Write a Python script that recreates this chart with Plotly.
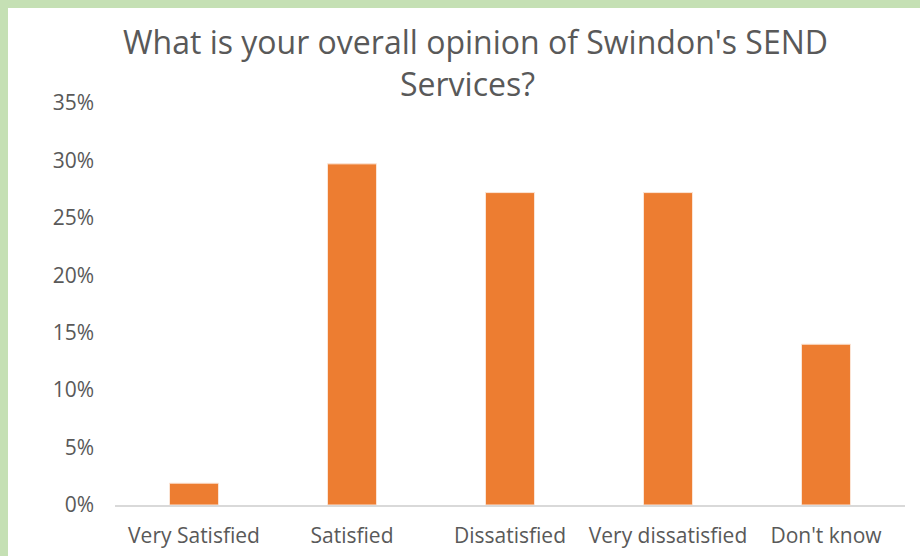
import plotly.graph_objects as go

categories = ["Very Satisfied", "Satisfied", "Dissatisfied", "Very dissatisfied", "Don't know"]
values = [0.019, 0.297, 0.272, 0.272, 0.14]
y_ticks = [0, 0.05, 0.10, 0.15, 0.20, 0.25, 0.30, 0.35]
title_lines = ["What is your overall opinion of Swindon's SEND", "Services?"]

W, H = 920, 556
L, R, T, B = 115, 15, 103, 51
pw, ph = W - L - R, H - T - B


def px_x(x):
    return (x - L) / pw


def px_y(y):
    return (H - B - y) / ph


fig = go.Figure(go.Bar(
    x=categories, y=values,
    marker=dict(color="#ed7d31", line=dict(color="#fbe5d6", width=1)),
    width=0.31,
))

green = "#c5e0b4"
fig.add_shape(type="rect", xref="paper", yref="paper",
              x0=px_x(0), x1=px_x(8), y0=px_y(H + 5), y1=px_y(-5),
              fillcolor=green, line_width=0, layer="below")
fig.add_shape(type="rect", xref="paper", yref="paper",
              x0=px_x(0), x1=px_x(W + 5), y0=px_y(8), y1=px_y(-5),
              fillcolor=green, line_width=0, layer="below")

fig.add_annotation(text=title_lines[0], xref="paper", yref="paper",
                   x=px_x(475), y=px_y(42), xanchor="center", yanchor="middle",
                   showarrow=False, font=dict(size=32, color="#595959"))
fig.add_annotation(text=title_lines[1], xref="paper", yref="paper",
                   x=px_x(467), y=px_y(83), xanchor="center", yanchor="middle",
                   showarrow=False, font=dict(size=32, color="#595959"))

fig.update_layout(
    width=W, height=H,
    margin=dict(l=L, r=R, t=T, b=B),
    paper_bgcolor="white", plot_bgcolor="white",
    font=dict(family="Open Sans", color="#595959", size=21),
    showlegend=False,
)
fig.update_xaxes(showline=True, linecolor="#d9d9d9", linewidth=1.5, ticks="",
                 showgrid=False, ticklabelstandoff=11, tickfont=dict(size=21),
                 automargin=False)
fig.update_yaxes(range=[0, 0.35], tickvals=y_ticks, tickformat=".0%", showgrid=False,
                 zeroline=False, showline=False, ticks="", ticklabelstandoff=20,
                 tickfont=dict(size=21), automargin=False)

fig.write_html("out.html")
